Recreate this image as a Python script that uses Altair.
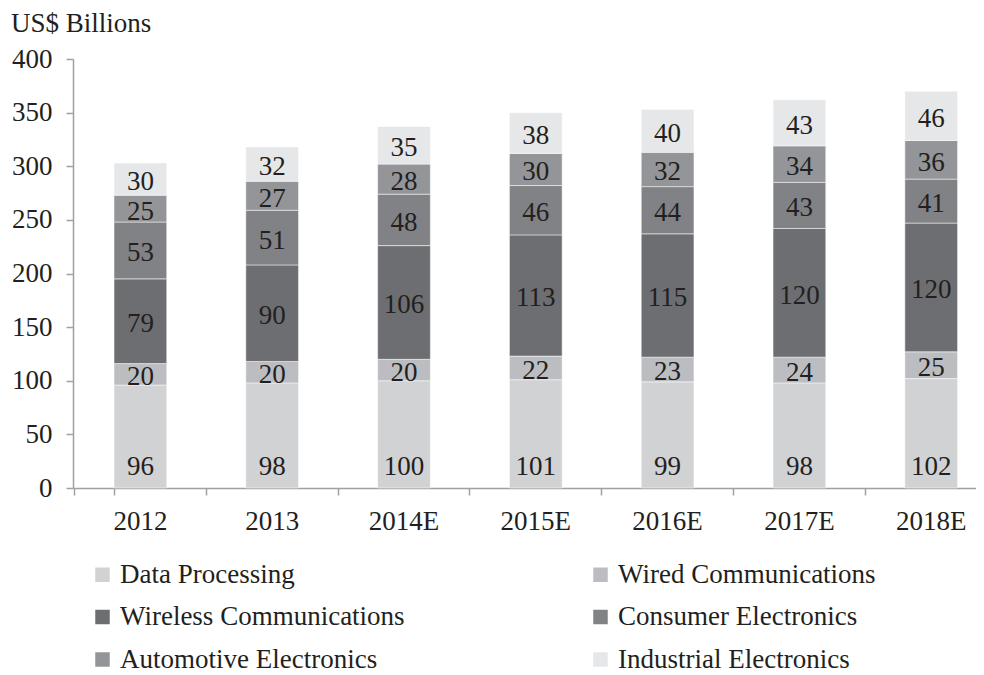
import altair as alt
import pandas as pd

years = ["2012", "2013", "2014E", "2015E", "2016E", "2017E", "2018E"]
names = ["Data Processing", "Wired Communications", "Wireless Communications",
         "Consumer Electronics", "Automotive Electronics", "Industrial Electronics"]
data_processing = [96, 98, 100, 101, 99, 98, 102]
wired = [20, 20, 20, 22, 23, 24, 25]
wireless = [79, 90, 106, 113, 115, 120, 120]
consumer = [53, 51, 48, 46, 44, 43, 41]
automotive = [25, 27, 28, 30, 32, 34, 36]
industrial = [30, 32, 35, 38, 40, 43, 46]
colors = ["#d1d2d4", "#bcbdc0", "#6d6e71", "#808285", "#939598", "#e6e7e8"]
y_title = ["US$ Billions"]

# legend reading order (legend fills column by column, 3 rows x 2 columns)
legend_order = [0, 2, 4, 1, 3, 5]

series = [data_processing, wired, wireless, consumer, automotive, industrial]
rows = []
for i, yr in enumerate(years):
    for j, vals in enumerate(series):
        rows.append({"year": yr, "series": names[j], "value": vals[i], "order": j})
df = pd.DataFrame(rows)

FONT = "Liberation Serif"
TXT = "#231f20"
AX = "#a0a0a0"

base = alt.Chart(df).transform_stack(
    stack="value", groupby=["year"], as_=["y0", "y1"],
    sort=[alt.SortField("order", order="ascending")]
).transform_calculate(
    ymid="datum.series === 'Data Processing' ? 22 : (datum.y0 + datum.y1) / 2"
)

xenc = alt.X(
    "year:N", sort=years,
    scale=alt.Scale(paddingInner=0.6, paddingOuter=0.2255, align=0.69),
    axis=alt.Axis(title=None, labelAngle=0, bandPosition=-0.75, tickExtra=True,
                  tickSize=7, labelPadding=13, domainColor=AX, tickColor=AX,
                  domainWidth=1.5, tickWidth=1.5),
)

bars = base.mark_bar(stroke="white", strokeWidth=0.5).encode(
    x=xenc,
    y=alt.Y("y0:Q", scale=alt.Scale(domain=[0, 400]),
            axis=alt.Axis(title=None, values=list(range(0, 401, 50)), grid=False,
                          tickSize=7, labelPadding=14, domainColor=AX, tickColor=AX,
                          domainWidth=1.5, tickWidth=1.5)),
    y2="y1:Q",
    color=alt.Color(
        "series:N",
        scale=alt.Scale(domain=[names[k] for k in legend_order],
                        range=[colors[k] for k in legend_order]),
        legend=alt.Legend(
            title=None, orient="none", legendX=16, legendY=502, columns=2,
            columnPadding=182, rowPadding=14.5, padding=0, symbolType="square",
            symbolSize=210, symbolStrokeWidth=0, labelFontSize=27, labelFont=FONT,
            labelColor=TXT, labelOffset=4, labelLimit=500,
        ),
    ),
    order=alt.Order("order:Q"),
)

labels = base.mark_text(font=FONT, fontSize=27, color=TXT, baseline="middle", dy=3).encode(
    x=alt.X("year:N", sort=years),
    y=alt.Y("ymid:Q"),
    text=alt.Text("value:Q"),
)

title = alt.Chart(pd.DataFrame({"t": y_title})).mark_text(
    font=FONT, fontSize=27, color=TXT, align="left", baseline="alphabetic"
).encode(x=alt.value(-62), y=alt.value(-27), text="t:N")

chart = alt.layer(bars, labels, title).properties(
    width=903, height=429,
    padding={"left": 65, "top": 51, "right": 0, "bottom": 185},
    autosize=alt.AutoSizeParams(type="none"),
).configure(font=FONT).configure_axis(
    labelFont=FONT, labelFontSize=27, labelColor=TXT
).configure_view(stroke=None)

chart.save("out.html", embed_options={"renderer": "svg", "actions": False})
